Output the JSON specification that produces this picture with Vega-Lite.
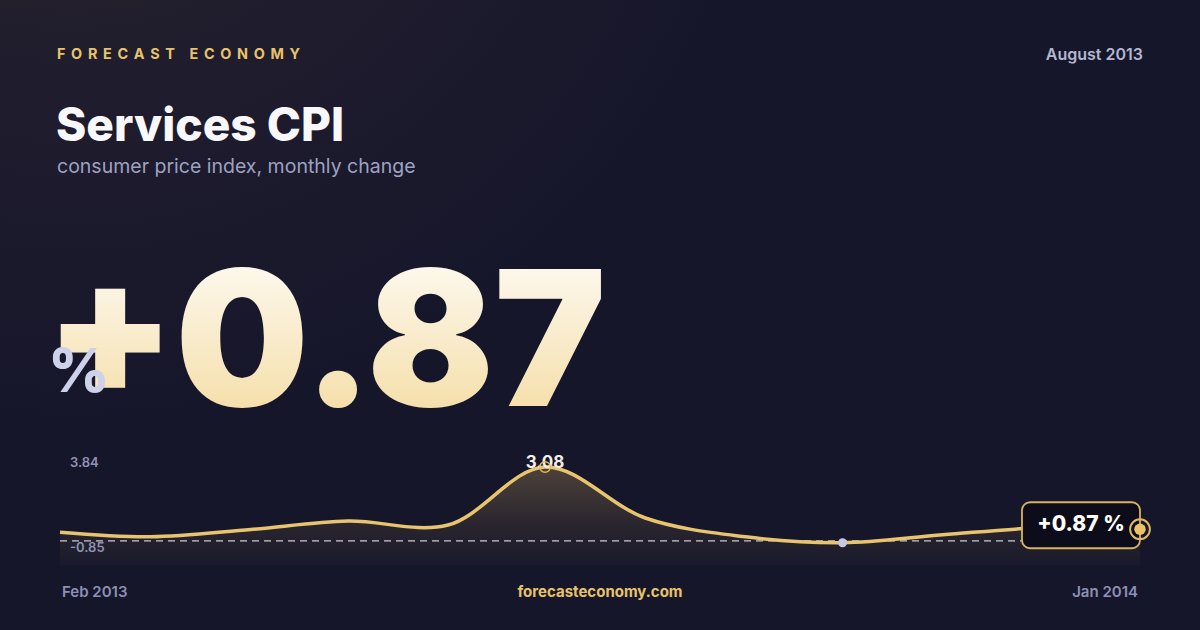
{
  "$schema": "https://vega.github.io/schema/vega-lite/v6.json",
  "description": "Services CPI, monthly change, Feb 2013 to Jan 2014.",
  "width": 1200,
  "height": 630,
  "autosize": {"type": "fit", "contains": "padding"},
  "padding": 0,
  "background": "#16162b",
  "config": {"view": {"stroke": null}, "font": "Inter"},
  "datasets": {
    "series": [
      {"date": "2013-02-01", "value": 0.76},
      {"date": "2013-03-01", "value": 0.6},
      {"date": "2013-04-01", "value": 0.86},
      {"date": "2013-05-01", "value": 1.16},
      {"date": "2013-06-01", "value": 1.02},
      {"date": "2013-07-01", "value": 3.08},
      {"date": "2013-08-01", "value": 1.27},
      {"date": "2013-09-01", "value": 0.6},
      {"date": "2013-10-01", "value": 0.39},
      {"date": "2013-11-01", "value": 0.67},
      {"date": "2013-12-01", "value": 0.92},
      {"date": "2014-01-01", "value": 0.87}
    ],
    "reference": [
      {"start": "2013-02-01", "end": "2014-01-01", "value": 0.455}
    ]
  },
  "data": {"name": "series"},
  "encoding": {
    "x": {"field": "date", "type": "temporal", "scale": {"range": [60, 1140], "nice": false}, "axis": null},
    "y": {"field": "value", "type": "quantitative", "scale": {"domain": [-0.4, 3.84], "range": [565, 445.6], "nice": false, "zero": false}, "axis": null}
  },
  "layer": [
    {
      "data": {"values": [{}]},
      "mark": {
        "type": "rect",
        "fill": {
          "gradient": "radial",
          "x1": 0.06, "y1": 0.0, "r1": 0,
          "x2": 0.06, "y2": 0.0, "r2": 0.6,
          "stops": [
            {"offset": 0, "color": "#3c332f"},
            {"offset": 0.45, "color": "#201d2d"},
            {"offset": 1, "color": "#16162b"}
          ]
        }
      },
      "encoding": {
        "x": {"value": 0}, "x2": {"value": 1200},
        "y": {"value": 0}, "y2": {"value": 630}
      }
    },
    {
      "mark": {
        "type": "area",
        "interpolate": "catmull-rom",
        "fill": {
          "gradient": "linear", "x1": 0, "y1": 0, "x2": 0, "y2": 1,
          "stops": [
            {"offset": 0, "color": "#4d4139"},
            {"offset": 0.6, "color": "#29252f"},
            {"offset": 1, "color": "#1a1a2b"}
          ]
        }
      },
      "encoding": {"y2": {"datum": -0.4}}
    },
    {
      "data": {"name": "reference"},
      "mark": {"type": "rule", "color": "#e8e6f0", "strokeDash": [7, 5], "strokeWidth": 1.2, "opacity": 0.85},
      "encoding": {
        "x": {"field": "start", "type": "temporal"},
        "x2": {"field": "end"},
        "y": {"field": "value", "type": "quantitative"}
      }
    },
    {
      "mark": {"type": "line", "interpolate": "catmull-rom", "color": "#e9c46f", "strokeWidth": 3.5}
    },
    {
      "transform": [{"filter": "datum.value == 3.08"}],
      "mark": {"type": "text", "fontSize": 17, "fontWeight": 700, "color": "#f2efe8", "baseline": "alphabetic", "dy": 1},
      "encoding": {"text": {"field": "value", "format": ".2f"}}
    },
    {
      "transform": [{"filter": "datum.value == 3.08"}],
      "mark": {"type": "point", "shape": "circle", "size": 113, "filled": false, "stroke": "#e0b85e", "strokeWidth": 1.5, "opacity": 1}
    },
    {
      "transform": [{"filter": "datum.value == 0.39"}],
      "mark": {"type": "point", "shape": "circle", "size": 80, "filled": true, "color": "#c5c8de", "opacity": 1}
    },
    {
      "transform": [{"filter": "datum.value == 0.87"}],
      "mark": {
        "type": "rect", "cornerRadius": 8, "fill": "#0c0c1a", "stroke": "#d8b25e", "strokeWidth": 1.8,
        "xOffset": -118, "x2Offset": 0, "yOffset": -27, "y2Offset": 19
      },
      "encoding": {"x2": {"field": "date"}, "y2": {"field": "value"}}
    },
    {
      "transform": [{"filter": "datum.value == 0.87"}],
      "mark": {"type": "text", "fontSize": 21, "fontWeight": 800, "color": "#ffffff", "align": "center", "baseline": "alphabetic", "dx": -59, "dy": 2},
      "encoding": {"text": {"value": "+0.87 %"}}
    },
    {
      "transform": [{"filter": "datum.value == 0.87"}],
      "mark": {"type": "point", "shape": "circle", "size": 390, "filled": false, "stroke": "#e0b85e", "strokeWidth": 2, "opacity": 1}
    },
    {
      "transform": [{"filter": "datum.value == 0.87"}],
      "mark": {"type": "point", "shape": "circle", "size": 133, "filled": true, "color": "#e8c36a", "opacity": 1}
    },
    {
      "data": {"values": [{}]},
      "mark": {"type": "text", "fontSize": 13, "fontWeight": 600, "color": "#8e92b3", "align": "left", "baseline": "alphabetic"},
      "encoding": {"x": {"value": 70}, "y": {"value": 467}, "text": {"value": "3.84"}}
    },
    {
      "data": {"values": [{}]},
      "mark": {"type": "text", "fontSize": 13, "fontWeight": 600, "color": "#8e92b3", "align": "left", "baseline": "alphabetic"},
      "encoding": {"x": {"value": 70}, "y": {"value": 552}, "text": {"value": "-0.85"}}
    },
    {
      "data": {"values": [{}]},
      "mark": {"type": "text", "fontSize": 14.4, "fontWeight": 700, "color": "#e8c36a", "align": "left", "baseline": "alphabetic"},
      "encoding": {"x": {"value": 57}, "y": {"value": 59}, "text": {"value": "F\u00a0\u2009O\u00a0\u2009R\u00a0\u2009E\u00a0\u2009C\u00a0\u2009A\u00a0\u2009S\u00a0\u2009T\u00a0\u2009\u00a0\u2009\u00a0E\u00a0\u2009C\u00a0\u2009O\u00a0\u2009N\u00a0\u2009O\u00a0\u2009M\u00a0\u2009Y"}}
    },
    {
      "data": {"values": [{}]},
      "mark": {"type": "text", "fontSize": 16, "fontWeight": 600, "color": "#b3b6d0", "align": "right", "baseline": "alphabetic"},
      "encoding": {"x": {"value": 1143}, "y": {"value": 60}, "text": {"value": "August 2013"}}
    },
    {
      "data": {"values": [{}]},
      "mark": {"type": "text", "fontSize": 46, "fontWeight": 800, "color": "#f8f8fc", "align": "left", "baseline": "alphabetic"},
      "encoding": {"x": {"value": 56}, "y": {"value": 141}, "text": {"value": "Services CPI"}}
    },
    {
      "data": {"values": [{}]},
      "mark": {"type": "text", "fontSize": 19.5, "fontWeight": 400, "color": "#9ea2c2", "align": "left", "baseline": "alphabetic"},
      "encoding": {"x": {"value": 57}, "y": {"value": 173}, "text": {"value": "consumer price index, monthly change"}}
    },
    {
      "data": {"values": [{}]},
      "mark": {
        "type": "text", "fontSize": 188, "fontWeight": 900, "align": "left", "baseline": "alphabetic",
        "fill": {
          "gradient": "linear", "x1": 0, "y1": 0, "x2": 0, "y2": 1,
          "stops": [
            {"offset": 0, "color": "#ffffff"},
            {"offset": 1, "color": "#f3d898"}
          ]
        }
      },
      "encoding": {"x": {"value": 45}, "y": {"value": 406}, "text": {"value": "+0.87"}}
    },
    {
      "data": {"values": [{}]},
      "mark": {"type": "text", "fontSize": 60, "fontWeight": 800, "color": "#cdd1ea", "align": "left", "baseline": "alphabetic"},
      "encoding": {"x": {"value": 48}, "y": {"value": 392}, "text": {"value": "%"}}
    },
    {
      "data": {"values": [{}]},
      "mark": {"type": "text", "fontSize": 15, "fontWeight": 600, "color": "#8b90b4", "align": "left", "baseline": "alphabetic"},
      "encoding": {"x": {"value": 62}, "y": {"value": 597}, "text": {"value": "Feb 2013"}}
    },
    {
      "data": {"values": [{}]},
      "mark": {"type": "text", "fontSize": 15, "fontWeight": 600, "color": "#8b90b4", "align": "right", "baseline": "alphabetic"},
      "encoding": {"x": {"value": 1138}, "y": {"value": 597}, "text": {"value": "Jan 2014"}}
    },
    {
      "data": {"values": [{}]},
      "mark": {"type": "text", "fontSize": 15, "fontWeight": 700, "color": "#e8c36a", "align": "center", "baseline": "alphabetic"},
      "encoding": {"x": {"value": 600}, "y": {"value": 597}, "text": {"value": "forecasteconomy.com"}}
    }
  ]
}
